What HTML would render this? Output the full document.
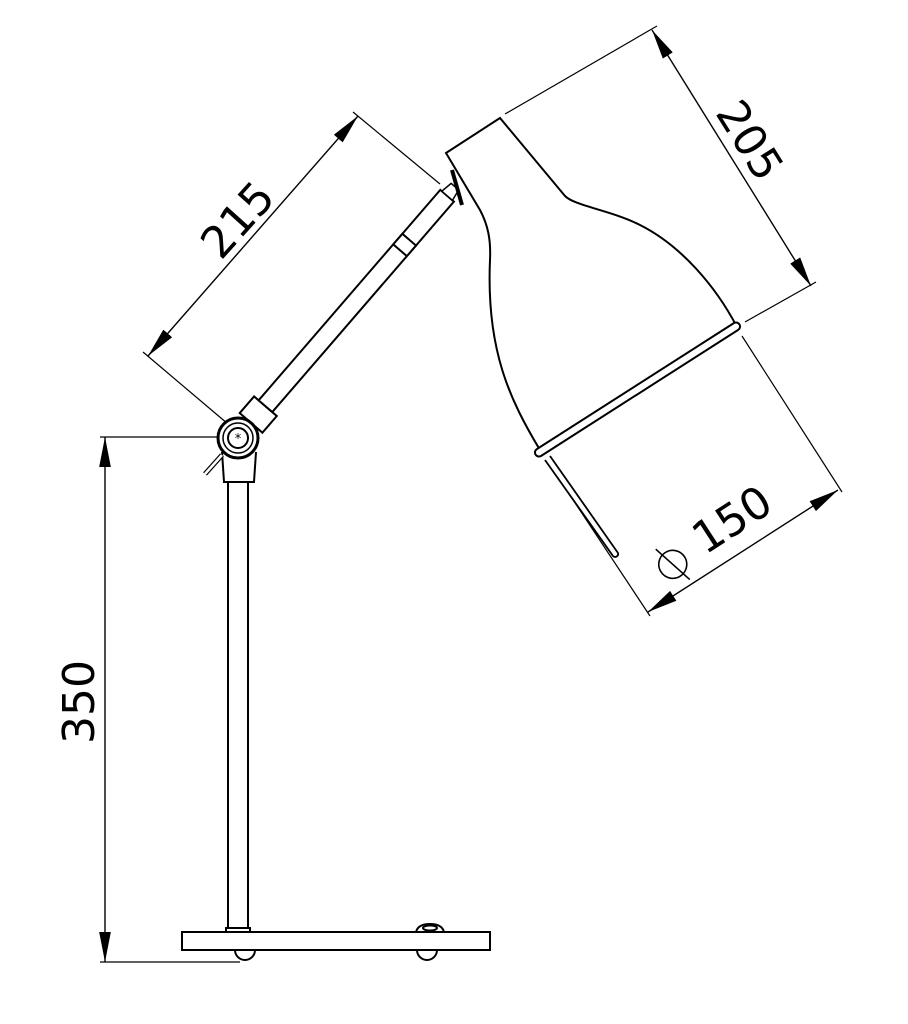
<!DOCTYPE html>
<html><head><meta charset="utf-8"><style>
html,body{margin:0;padding:0;background:#fff;}
svg{display:block}
text{font-family:"DejaVu Sans","Liberation Sans",sans-serif;font-weight:normal;fill:#000}
</style></head><body>
<svg width="908" height="1024" viewBox="0 0 908 1024" xmlns="http://www.w3.org/2000/svg">
<defs>
<marker id="ar" viewBox="0 0 10 10" refX="10" refY="5" markerWidth="30" markerHeight="13" markerUnits="userSpaceOnUse" orient="auto-start-reverse" preserveAspectRatio="none">
<path d="M0,0.5 L10,5 L0,9.5 z" fill="#000"/>
</marker>
</defs>
<g stroke="#000" fill="none" stroke-width="1.2">
<line x1="100" y1="437" x2="232" y2="437"/>
<line x1="100" y1="962" x2="240" y2="962"/>
<line x1="105" y1="437" x2="105" y2="962" marker-start="url(#ar)" marker-end="url(#ar)" stroke-width="1.4"/>
<line x1="228" y1="424" x2="143" y2="352"/>
<line x1="440" y1="184" x2="353" y2="112"/>
<line x1="148" y1="356" x2="358" y2="116" marker-start="url(#ar)" marker-end="url(#ar)" stroke-width="1.4"/>
<line x1="505" y1="114" x2="657" y2="26"/>
<line x1="745" y1="322" x2="816" y2="282"/>
<line x1="652" y1="30" x2="811" y2="286" marker-start="url(#ar)" marker-end="url(#ar)" stroke-width="1.4"/>
<line x1="742" y1="336" x2="842" y2="492"/>
<line x1="548" y1="462" x2="650" y2="616"/>
<line x1="648" y1="612" x2="838" y2="490" marker-start="url(#ar)" marker-end="url(#ar)" stroke-width="1.4"/>
</g>
<text x="0" y="0" font-size="44" transform="translate(240,222) rotate(-48)" text-anchor="middle" dominant-baseline="middle">215</text>
<text x="0" y="0" font-size="44" transform="translate(747,142) rotate(58)" text-anchor="middle" dominant-baseline="middle">205</text>
<text x="0" y="0" font-size="44" transform="translate(82,702) rotate(-90)" text-anchor="middle" dominant-baseline="middle">350</text>
<g transform="translate(722,530) rotate(-33)">
<text x="14" y="0" font-size="44" text-anchor="middle" dominant-baseline="middle">150</text>
<circle cx="-60" cy="2" r="14" fill="none" stroke="#000" stroke-width="1.6"/>
<line x1="-66" y1="-20" x2="-54" y2="24" stroke="#000" stroke-width="1.6"/>
</g>
<g stroke="#000" fill="#fff" stroke-width="2">
<rect x="182" y="932" width="308" height="18"/>
<path d="M235,950 a10,10 0 0 0 20,0 z"/>
<path d="M417,950 a10,10 0 0 0 20,0 z"/>
<path d="M416,932 q2,-8 14,-8 q12,0 14,8 z"/>
<ellipse cx="430" cy="928" rx="7" ry="2.5"/>
<rect x="228" y="480" width="20" height="450"/>
<rect x="226" y="928" width="24" height="4"/>
<path d="M222,452 L224,482 L254,482 L256,452"/>
<line x1="205" y1="474" x2="222" y2="455" stroke-width="5"/>
<line x1="205" y1="474" x2="222" y2="455" stroke="#fff" stroke-width="2.5"/>
<g transform="translate(238,438) rotate(-49.2)">
<rect x="20" y="-15" width="22" height="30"/>
<rect x="42" y="-9" width="278" height="18"/>
<rect x="248" y="-9" width="14" height="18"/>
<path d="M320,-7 L332,-5 L332,5 L320,7 z" stroke-width="1.5"/>
</g>
<circle cx="238" cy="438" r="20" stroke-width="3"/>
<circle cx="238" cy="438" r="15" stroke-width="1.5"/>
<circle cx="238" cy="438" r="10" stroke-width="2"/>
<text x="238" y="443" font-size="13" text-anchor="middle" stroke="none" fill="#000">*</text>
<path d="M446,153 L500,118 L565,196 C575,206 610,210 640,225 C680,245 715,285 737,327 L540,450 C510,400 486,350 490,260 C491,240 488,225 480,210 Z"/>
<path d="M452,170 L462,205" stroke-width="4"/>
<path d="M541,456 L738,330 a4,4 0 0 0 -4,-7 L537,449 a4,4 0 0 0 4,7 z" stroke-width="2"/>
<path d="M550,456 L618,553 a3,3 0 0 1 -5,3 L545,460" stroke-width="1.8"/>
</g>
</svg>
</body></html>
